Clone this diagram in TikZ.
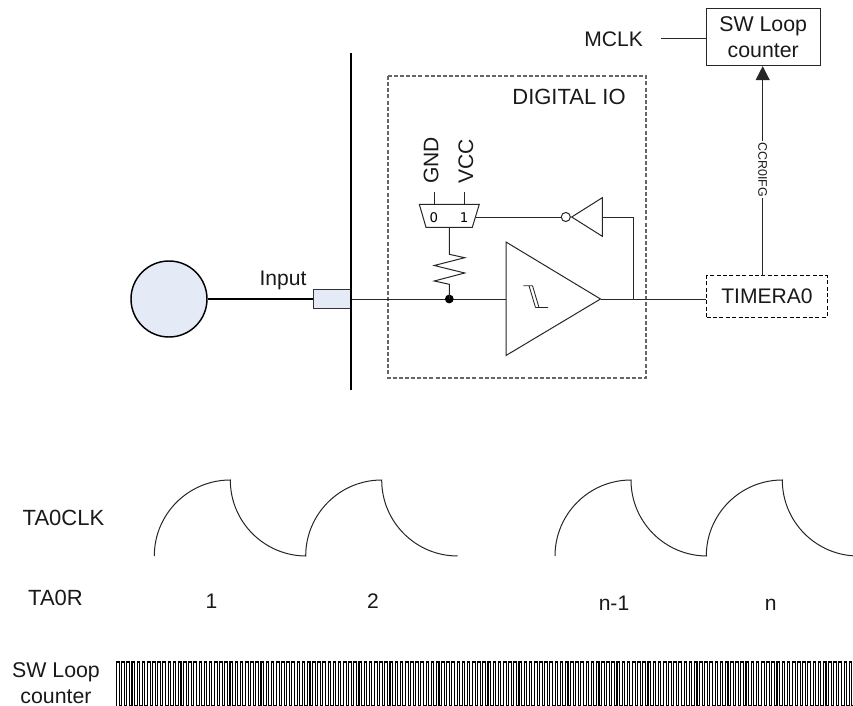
\documentclass[tikz,border=0pt]{standalone}
\usepackage{fontspec}
\setmainfont{Liberation Sans}
\usetikzlibrary{arrows.meta}
\definecolor{paleblue}{HTML}{E4EBF6}
\definecolor{dashgray}{HTML}{666666}
\tikzset{
  wire/.style={draw=black!85,line width=0.75pt},
  thickwire/.style={draw=black,line width=1.4pt},
  lab/.style={font=\fontsize{15.8}{18}\selectfont,text=black!90,inner sep=0pt,align=center},
  biglab/.style={lab,font=\fontsize{16.5}{18}\selectfont},
  dashbox/.style={draw=black,line width=0.75pt,dash pattern=on 3pt off 1.8pt},
  wave/.style={draw=black!85,line width=0.75pt},
}
\begin{document}
\begin{tikzpicture}[x=0.75pt,y=-0.75pt]
\useasboundingbox (0,0) rectangle (853,706);
% digital IO frame
\draw[draw=dashgray,line width=0.8pt,dash pattern=on 3pt off 1.6pt] (388,76) rectangle (646,378);
\node[biglab] (digio) at (569,97) {DIGITAL IO};
% sensor
\node[circle,draw=black,fill=paleblue,line width=1.1pt,minimum size=76pt*0.75,inner sep=0pt] (sensor) at (169,299) {};
\node[rectangle,draw=black!80,fill=paleblue,line width=0.75pt,minimum width=28.5pt,minimum height=14.5pt,inner sep=0pt] (pin) at (332,299) {};
\draw[thickwire,fill=none] (351,53) coordinate (bartop) -- (351,390) coordinate (barbot);
\draw[thickwire] (sensor.east) -- (pin.west);
\node[lab,anchor=center] (input) at (283,280) {Input};
% buffer
\coordinate (bufT) at (506,242);
\coordinate (bufB) at (506,355.5);
\coordinate (bufO) at (600.5,299);
\coordinate (bufI) at (506,299);
\draw[wire,line join=miter] (bufT) -- (bufO) -- (bufB) -- cycle;
\draw[wire] (pin.east) -- (bufI);
\coordinate (junc) at (449.3,299);
\fill[black] (junc) circle (3.3pt);
% schmitt symbol
\draw[wire,line width=0.65pt] (523.3,285.7) -- (532.5,285.7) (529,285.7) -- (535.5,307.5) (532.5,285.7) -- (539,307.5) -- (548,307.5) (535.5,307.5) -- (539,307.5);
% timer
\node[dashbox,minimum width=90.5pt,minimum height=31pt,inner sep=0pt,lab] (timer) at (767,296.5) {TIMERA0};
\draw[wire] (bufO) -- (timer.west |- bufO);
% inverter + feedback
\coordinate (tapo) at (633.3,299);
\coordinate (invB) at (602.3,217);
\draw[wire] (602.3,197.7) -- (571.7,217) -- (602.3,236.3) -- cycle;
\node[circle,draw=black!85,line width=0.75pt,fill=white,minimum size=6.8pt,inner sep=0pt] (bub) at (565.8,217) {};
\draw[wire] (tapo) |- (invB);
% mux
\draw[wire,line join=miter] (419.3,204.3) -- (479.3,204.3) -- (472.3,227.3) -- (426,227.3) -- cycle;
\coordinate (muxO) at (476,217);
\draw[wire] (muxO) -- (bub.west);
\node[inner sep=0pt,font=\fontsize{10}{12}\selectfont\fontspec{DejaVu Sans}] (m0) at (433.8,217.3) {0};
\node[inner sep=0pt,font=\fontsize{10}{12}\selectfont\fontspec{DejaVu Sans}] (m1) at (464,217.3) {1};
\draw[wire] (434.3,204.3) -- (434.3,192) coordinate (gp);
\draw[wire] (464.3,204.3) -- (464.3,192) coordinate (vp);
\node[lab,rotate=90,anchor=base west] (gnd) at (438.3,184) {GND};
\node[lab,rotate=90,anchor=base west] (vcc) at (473,184) {VCC};
% resistor
\draw[wire,line join=miter] (449.3,227.3) -- (449.3,254.3) -- (464.7,257.7) -- (434.3,265.5) -- (464.7,273) -- (434.3,281) -- (449.3,284.3) -- (junc);
% SW loop box
\node[draw=black!85,line width=0.75pt,minimum width=85.2pt,minimum height=42.5pt,inner sep=0pt,lab,font=\fontsize{16}{19.5}\selectfont] (sw) at (763.2,37.3) {SW Loop\\counter};
\node[lab] (mclk) at (613.7,39) {MCLK};
\coordinate (mclkE) at (661,39);
\draw[wire] (mclkE) -- (mclkE -| sw.west);
\coordinate (tt) at (762.7,275.8);
\draw[wire,-{Triangle[length=10.5pt,width=10.5pt]}] (tt) -- (tt |- sw.south)
  node[pos=0.506,sloped,fill=white,inner sep=1pt,rotate=180,font=\fontsize{9.3}{11}\selectfont,text=black!90] (ccr) {CCR0IFG};
% waveform
\foreach \xs in {154.3,305.7,555,706.3}{
  \draw[wave] (\xs,556) arc[start angle=180,end angle=90,radius=57pt] arc[start angle=180,end angle=270,radius=57pt];
}
\node[biglab,anchor=base] (clk) at (63.5,525) {TA0CLK};
\node[biglab,anchor=base] (tar) at (55.5,605) {TA0R};
\node[lab,anchor=base] (n1) at (211.5,608.3) {1};
\node[lab,anchor=base] (n2) at (373,608.3) {2};
\node[lab,anchor=base] (n3) at (614,610) {n-1};
\node[lab,anchor=base] (n4) at (770.7,610) {n};
\node[lab,font=\fontsize{16}{19.5}\selectfont] (swl) at (56,683.5) {SW Loop\\counter};
% square wave
\draw[black,line width=0.8pt] (116.5,706)
  \foreach \i in {0,...,142}{ -- ++(0,-44) -- ++(2.58,0) -- ++(0,44) -- ++(2.58,0) };
\end{tikzpicture}
\end{document}
